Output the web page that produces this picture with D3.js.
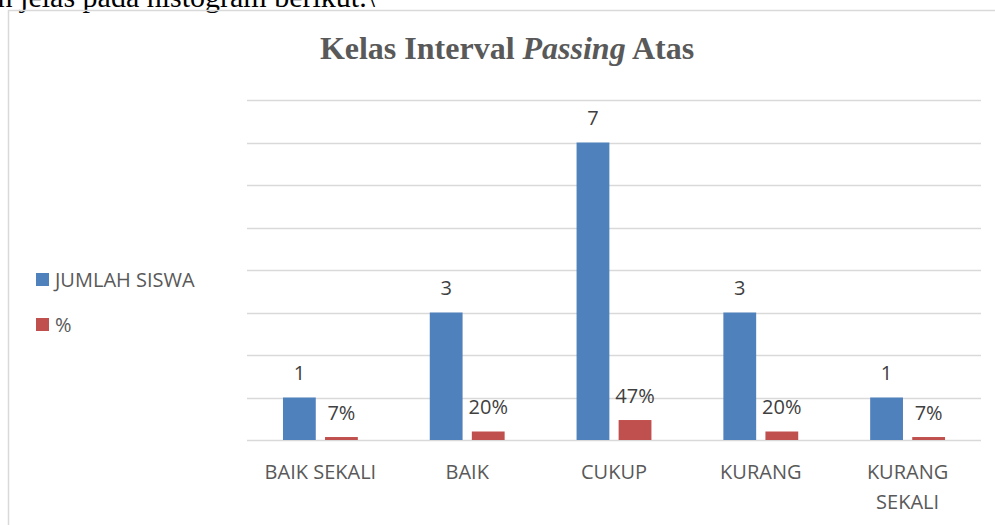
<!DOCTYPE html>
<html>
<head>
<meta charset="utf-8">
<script src="https://cdn.jsdelivr.net/npm/d3@7"></script>
<style>
  body { margin: 0; background: #fff; }
  svg { display: block; }
</style>
</head>
<body>
<div id="chart"></div>
<script>
// chart data
const categories = ["BAIK SEKALI", "BAIK", "CUKUP", "KURANG", "KURANG SEKALI"];
const jumlahSiswa = [1, 3, 7, 3, 1];
const persen = [0.07, 0.20, 0.47, 0.20, 0.07];
const seriesNames = ["JUMLAH SISWA", "%"];
const yTicks = [0, 1, 2, 3, 4, 5, 6, 7, 8];

const width = 995, height = 525;
const colors = ["#4f81bd", "#c0504d"];
const textGray = "#595959";
const labelFont = "Open Sans, sans-serif";

const svg = d3.select("#chart")
  .append("svg")
  .attr("width", width)
  .attr("height", height);

// leftover document text above the chart (cut by the page edge)
svg.append("text")
  .attr("x", 375)
  .attr("y", 6.5)
  .attr("text-anchor", "end")
  .attr("font-family", "Liberation Serif, Times New Roman, serif")
  .attr("font-size", 30)
  .attr("fill", "#000")
  .text("an jelas pada histogram berikut.\\");

// chart frame (only top + left visible)
svg.append("path")
  .attr("d", "M8.5,525 V10.5 H995")
  .attr("fill", "none")
  .attr("stroke", "#d9d9d9")
  .attr("stroke-width", 1.5);

// title
const title = svg.append("text")
  .attr("x", 507)
  .attr("y", 59)
  .attr("text-anchor", "middle")
  .attr("font-family", "Liberation Serif, Times New Roman, serif")
  .attr("font-weight", "bold")
  .attr("font-size", 32)
  .attr("fill", textGray);
title.append("tspan").text("Kelas Interval ");
title.append("tspan").attr("font-style", "italic").text("Passing");
title.append("tspan").text(" Atas");

// scales
const x0 = d3.scaleBand()
  .domain(categories)
  .range([247, 981])
  .paddingInner(0)
  .paddingOuter(0);

const x1 = d3.scaleBand()
  .domain([0, 1])
  .range([x0.bandwidth() * 0.245, x0.bandwidth() * 0.755])
  .paddingInner(0.22);

const y = d3.scaleLinear()
  .domain([0, 8])
  .range([440, 100]);

// gridlines
svg.append("g")
  .selectAll("line")
  .data(yTicks)
  .join("line")
  .attr("x1", 247)
  .attr("x2", 981)
  .attr("y1", d => Math.round(y(d)) + 0.5)
  .attr("y2", d => Math.round(y(d)) + 0.5)
  .attr("stroke", "#d9d9d9")
  .attr("stroke-width", 1.5);

// bars
const rows = categories.map((c, i) => ({ cat: c, vals: [jumlahSiswa[i], persen[i]] }));

const groups = svg.append("g")
  .selectAll("g")
  .data(rows)
  .join("g")
  .attr("transform", d => `translate(${x0(d.cat)},0)`);

groups.selectAll("rect")
  .data(d => d.vals.map((v, k) => ({ v, k })))
  .join("rect")
  .attr("x", d => x1(d.k))
  .attr("width", x1.bandwidth())
  .attr("y", d => y(d.v))
  .attr("height", d => y(0) - y(d.v))
  .attr("fill", d => colors[d.k]);

// data labels
const pctFmt = d3.format(".0%");
groups.selectAll("text")
  .data(d => d.vals.map((v, k) => ({ v, k })))
  .join("text")
  .attr("x", d => x1(d.k) + x1.bandwidth() / 2)
  .attr("y", d => y(d.v) - 17.5)
  .attr("text-anchor", "middle")
  .attr("font-family", labelFont)
  .attr("font-size", 20)
  .attr("fill", "#404040")
  .text(d => d.k === 0 ? d.v : pctFmt(d.v));

// category axis labels
const xAxis = svg.append("g");
categories.forEach(c => {
  const words = c === "KURANG SEKALI" ? ["KURANG", "SEKALI"] : [c];
  const t = xAxis.append("text")
    .attr("x", x0(c) + x0.bandwidth() / 2)
    .attr("y", 478.5)
    .attr("text-anchor", "middle")
    .attr("font-family", labelFont)
    .attr("font-size", 20)
    .attr("fill", textGray);
  words.forEach((w, i) => {
    t.append("tspan")
      .attr("x", x0(c) + x0.bandwidth() / 2)
      .attr("dy", i === 0 ? 0 : 30.5)
      .text(w);
  });
});

// legend
const legend = svg.append("g")
  .selectAll("g")
  .data(seriesNames)
  .join("g")
  .attr("transform", (d, i) => `translate(36,${273 + i * 45})`);

legend.append("rect")
  .attr("width", 13)
  .attr("height", 13)
  .attr("fill", (d, i) => colors[i]);

legend.append("text")
  .attr("x", 19)
  .attr("y", 13.5)
  .attr("font-family", labelFont)
  .attr("font-size", 20)
  .attr("fill", textGray)
  .text(d => d);
</script>
</body>
</html>
